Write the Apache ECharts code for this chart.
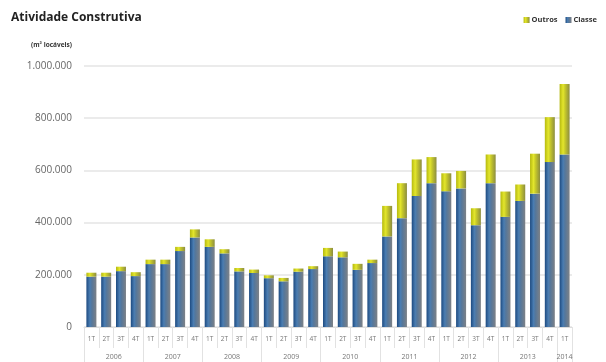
<!DOCTYPE html>
<html>
<head>
  <meta charset="utf-8" />
  <title>Atividade Construtiva</title>
  <script src="https://cdn.jsdelivr.net/npm/echarts@6/dist/echarts.min.js"></script>
  <style>
    html, body {
      height: 100%;
      margin: 0;
      padding: 0;
      background: #fff;
    }
    #main {
      width: 606px;
      height: 362px;
    }
  </style>
</head>
<body>
  <div id="main"></div>

  <script type="text/javascript">
    const quarters = [
      '1T', '2T', '3T', '4T', '1T', '2T', '3T', '4T', '1T', '2T', '3T', '4T',
      '1T', '2T', '3T', '4T', '1T', '2T', '3T', '4T', '1T', '2T', '3T', '4T',
      '1T', '2T', '3T', '4T', '1T', '2T', '3T', '4T', '1T'
    ];
    const years = [
      '2006', '2006', '2006', '2006', '2007', '2007', '2007', '2007',
      '2008', '2008', '2008', '2008', '2009', '2009', '2009', '2009',
      '2010', '2010', '2010', '2010', '2011', '2011', '2011', '2011',
      '2012', '2012', '2012', '2012', '2013', '2013', '2013', '2013', '2014'
    ];
    // m² locáveis
    const classe = [
      193000, 193000, 214000, 195000, 241000, 241000, 291000, 343000,
      307000, 282000, 213000, 207000, 187000, 175000, 212000, 222000,
      271000, 267000, 219000, 245000, 347000, 417000, 502000, 551000,
      520000, 531000, 390000, 551000, 422000, 483000, 511000, 632000,
      661000
    ];
    const outros = [
      15000, 15000, 17000, 15000, 17000, 17000, 16000, 31000,
      29000, 16000, 13000, 13000, 11000, 13000, 12000, 11000,
      32000, 22000, 23000, 13000, 117000, 134000, 140000, 100000,
      69000, 67000, 65000, 110000, 97000, 63000, 153000, 172000,
      270000
    ];

    const font = '"Open Sans", "Noto Sans", sans-serif';

    // fake 3d look: dark edge, light middle, grey side
    const blueFill = new echarts.graphic.LinearGradient(0, 0, 1, 0, [
      { offset: 0, color: '#1d4a80' },
      { offset: 0.35, color: '#4a7db2' },
      { offset: 0.55, color: '#56779a' },
      { offset: 1, color: '#7d8186' }
    ]);
    const yellowFill = new echarts.graphic.LinearGradient(0, 0, 1, 0, [
      { offset: 0, color: '#b5b90f' },
      { offset: 0.35, color: '#e3e62c' },
      { offset: 0.55, color: '#c6c82a' },
      { offset: 1, color: '#8c8d40' }
    ]);

    const chart = echarts.init(document.getElementById('main'));

    chart.setOption({
      animation: false,
      textStyle: { fontFamily: font },
      title: {
        text: 'Atividade Construtiva',
        left: 6,
        top: 7,
        textStyle: { fontSize: 12, fontWeight: 'bold', color: '#222', fontFamily: font }
      },
      legend: {
        data: ['Outros', 'Classe'],
        right: 4,
        top: 11,
        itemWidth: 6,
        itemHeight: 6,
        itemGap: 8,
        icon: 'rect',
        textStyle: { fontSize: 7.5, fontWeight: 'bold', color: '#333', padding: [0, 0, 0, -3] }
      },
      grid: { left: 84, right: 34, top: 66, bottom: 35 },
      xAxis: [
        {
          type: 'category',
          data: quarters,
          axisLine: { show: true, lineStyle: { color: '#ddd' } },
          axisTick: { show: true, length: 21, lineStyle: { color: '#e2e2e2' } },
          axisLabel: { fontSize: 6.5, color: '#777', margin: 9, interval: 0 }
        },
        {
          type: 'category',
          data: years,
          position: 'bottom',
          axisLine: { show: false },
          axisTick: {
            show: true,
            length: 36,
            interval: function (i) { return i % 4 === 0; },
            lineStyle: { color: '#e2e2e2' }
          },
          axisLabel: {
            interval: function (i) { return i % 4 === 1 || i === 32; },
            margin: 26,
            formatter: function (v, i) {
              return i === 32 ? '{c|' + v + '}' : '{y|' + v + '}';
            },
            rich: {
              y: { fontSize: 7, color: '#777', padding: [0, 0, 0, 15] },
              c: { fontSize: 7, color: '#777' }
            }
          }
        }
      ],
      yAxis: {
        type: 'value',
        min: 0,
        max: 1000000,
        interval: 200000,
        name: '(m² locáveis)',
        nameLocation: 'end',
        nameGap: 17,
        nameTextStyle: { fontSize: 6.5, fontWeight: 'bold', color: '#333', align: 'right', padding: [0, 12, 0, 0] },
        axisLine: { show: false },
        axisTick: { show: false },
        axisLabel: {
          fontSize: 10,
          color: '#666',
          margin: 12,
          formatter: function (v) {
            return v.toLocaleString('de-DE');
          }
        },
        splitLine: { lineStyle: { color: '#e4e4e4', width: 1.5 } }
      },
      series: [
        {
          name: 'Classe',
          type: 'bar',
          stack: 'total',
          barWidth: 10,
          itemStyle: { color: blueFill },
          data: classe
        },
        {
          name: 'Outros',
          type: 'bar',
          stack: 'total',
          barWidth: 10,
          itemStyle: { color: yellowFill },
          data: outros
        }
      ]
    });
  </script>
</body>
</html>
